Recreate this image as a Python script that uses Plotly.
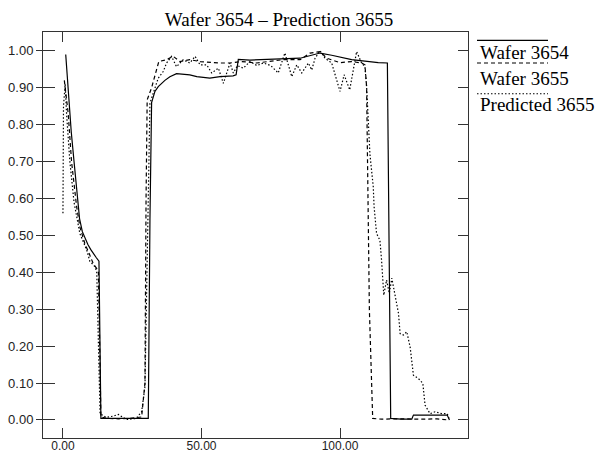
import plotly.graph_objects as go

# ---- data ----
w3654_x = [1, 2, 3, 4, 5, 6, 7, 8, 9, 10, 11, 12, 13, 13.7, 16, 20, 25, 30.8, 31.4, 32,
           33.2, 34.4, 36.8, 38.6, 41, 42.2, 45.8, 48.3, 53, 56.7, 61.4, 62.5, 63.3, 67.5,
           72.3, 79.5, 85.6, 92.8, 94.6, 97, 104.2, 109.6, 113.8, 117.1, 118.3, 122, 125.9,
           126.5, 130, 135, 138.7, 139.5]
w3654_y = [0.99, 0.87, 0.78, 0.70, 0.615, 0.545, 0.51, 0.49, 0.475, 0.462, 0.45, 0.44, 0.43,
           0.004, 0.004, 0.004, 0.004, 0.004, 0.54, 0.86, 0.89, 0.903, 0.92, 0.93, 0.938,
           0.937, 0.935, 0.93, 0.926, 0.93, 0.932, 0.935, 0.977, 0.975, 0.976, 0.977, 0.98,
           0.994, 0.992, 0.988, 0.976, 0.971, 0.968, 0.967, 0.004, 0.002, 0.002, 0.013,
           0.013, 0.013, 0.013, 0.0]

w3655_x = [0.5, 1.9, 3.1, 4.9, 6.1, 7.9, 9.5, 10.9, 12.2, 12.8, 13.7, 16, 20, 24, 28.4,
           29.6, 30.0, 30.4, 32, 34.6, 37.4, 39.8, 42.2, 45.8, 49.5, 53.1, 56.7, 60.3,
           64.5, 69.9, 74.7, 79.5, 85.6, 89.2, 92.8, 95.2, 100, 104.2, 107.8, 109, 109.6,
           110.2, 110.6, 111.8, 115, 120, 125, 130, 135, 139]
w3655_y = [0.92, 0.83, 0.70, 0.58, 0.523, 0.478, 0.45, 0.424, 0.41, 0.40, 0.008, 0.004,
           0.003, 0.004, 0.008, 0.10, 0.60, 0.867, 0.90, 0.971, 0.976, 0.985, 0.971, 0.976,
           0.971, 0.968, 0.967, 0.967, 0.971, 0.967, 0.971, 0.976, 0.976, 0.994, 0.998,
           0.98, 0.968, 0.971, 0.967, 0.962, 0.903, 0.60, 0.30, 0.004, 0.002, 0.003, 0.002,
           0.002, 0.003, 0.0]

pred_x = [0, 0.2, 0.8, 1.3, 2.5, 4, 6.1, 8.6, 9.7, 11.6, 12.2, 13.4, 15.5, 18, 20, 22.9,
          26.4, 28.4, 29.6, 30.2, 31.4, 33.2, 34.4, 36.2, 37.4, 39.2, 41, 43.4, 45.8, 47.7,
          49.5, 51.9, 53.7, 56.1, 57.9, 60.3, 61.5, 63, 65.1, 67.5, 70, 72.3, 75, 77.7,
          80.1, 82.6, 84.4, 86.2, 88.6, 89.8, 91, 92.8, 94.6, 97, 100, 101.5, 103.5, 106,
          107.8, 109, 109.6, 110.2, 110.8, 112, 112.3, 113.2, 114.4, 115, 115.6, 115.8,
          116.8, 117.8, 118.7, 119.9, 121.1, 121.7, 122.9, 124.1, 125.3, 126.5, 128.3,
          129.9, 130.7, 132.5, 134.3, 136.7, 138.7, 139.5]
pred_y = [0.56, 0.85, 0.91, 0.83, 0.70, 0.59, 0.505, 0.46, 0.43, 0.415, 0.40, 0.017, 0.007,
          0.01, 0.015, 0.001, 0.004, 0.022, 0.09, 0.325, 0.858, 0.899, 0.926, 0.944, 0.967,
          0.985, 0.957, 0.976, 0.967, 0.985, 0.962, 0.962, 0.94, 0.953, 0.912, 0.967, 0.94,
          0.96, 0.953, 0.971, 0.96, 0.967, 0.96, 0.94, 0.994, 0.93, 0.962, 0.94, 0.967,
          0.948, 0.98, 1.0, 0.98, 0.967, 0.89, 0.935, 0.894, 0.998, 0.967, 0.957, 0.903,
          0.813, 0.72, 0.632, 0.578, 0.505, 0.487, 0.433, 0.379, 0.338, 0.379, 0.343,
          0.384, 0.334, 0.289, 0.234, 0.23, 0.239, 0.198, 0.121, 0.112, 0.099, 0.04, 0.017,
          0.022, 0.017, 0.017, 0.001]

series_names = ["Wafer 3654", "Wafer 3655", "Predicted 3655"]
x_ticks = [0, 50, 100]
y_ticks = [0.0, 0.1, 0.2, 0.3, 0.4, 0.5, 0.6, 0.7, 0.8, 0.9, 1.0]
title_text = "Wafer 3654 \u2013 Prediction 3655"

# ---- figure ----
W, H = 616, 455
L, R, T, B = 43, 468, 32.3, 437.7
XR = [-7.2, 146.2]
YR = [-0.049, 1.051]

dashes = ["solid", "4px,3px", "1.5px,2px"]
fig = go.Figure()
for (xs, ys), name, d in zip([(w3654_x, w3654_y), (w3655_x, w3655_y), (pred_x, pred_y)],
                             series_names, dashes):
    fig.add_trace(go.Scatter(x=xs, y=ys, mode="lines", name=name, showlegend=False,
                             line=dict(color="black", width=1.2, dash=d)))

axis_col = "#333333"
ytickfont = dict(family="Liberation Sans, Arial, sans-serif", size=13, color="#222222")
xtickfont = dict(family="Liberation Sans, Arial, sans-serif", size=12, color="#222222")
fig.update_layout(
    width=W, height=H,
    margin=dict(l=L, r=W - R, t=T, b=H - B, pad=0),
    paper_bgcolor="white", plot_bgcolor="white",
    title=dict(text=title_text, x=279 / W, xanchor="center", xref="container",
               y=1 - 19 / H, yanchor="middle",
               font=dict(family="Liberation Serif, Times New Roman, serif", size=19, color="black")),
    xaxis=dict(range=XR, tickvals=x_ticks, tickformat=".2f", ticks="inside", ticklen=10,
               tickcolor=axis_col, showline=True, linecolor=axis_col, linewidth=1,
               mirror="ticks", showgrid=False, zeroline=False, tickfont=xtickfont,
               automargin=False, ticklabelstandoff=-3),
    yaxis=dict(range=YR, tickvals=y_ticks, tickformat=".2f", ticks="outside", ticklen=6,
               tickcolor=axis_col, showline=True, linecolor=axis_col, linewidth=1,
               showgrid=False, zeroline=False, tickfont=ytickfont, automargin=False),
    yaxis2=dict(range=YR, overlaying="y", side="left", tickvals=y_ticks, ticks="inside",
                ticklen=12, tickcolor=axis_col, showticklabels=False, showline=False,
                showgrid=False, zeroline=False),
    yaxis3=dict(range=YR, overlaying="y", side="right", tickvals=y_ticks, ticks="inside",
                ticklen=10, tickcolor=axis_col, showticklabels=False, showline=True,
                linecolor=axis_col, showgrid=False, zeroline=False),
)
# invisible traces so the overlay axes are drawn
fig.add_trace(go.Scatter(x=[None], y=[None], yaxis="y2", showlegend=False, hoverinfo="skip"))
fig.add_trace(go.Scatter(x=[None], y=[None], yaxis="y3", showlegend=False, hoverinfo="skip"))

# ---- custom legend (line above each label) ----
pw, ph = R - L, B - T
def px_x(p):
    return (p - L) / pw
def px_y(p):
    return (B - p) / ph

leg_line_y = [40.7, 63.3, 94]
leg_text_y = [53, 79, 105]
for name, d, ly, ty in zip(series_names, dashes, leg_line_y, leg_text_y):
    fig.add_shape(type="line", xref="paper", yref="paper",
                  x0=px_x(477), x1=px_x(548), y0=px_y(ly), y1=px_y(ly),
                  line=dict(color="black", width=1.1, dash=d))
    fig.add_annotation(text=name, xref="paper", yref="paper", x=px_x(478), y=px_y(ty),
                       xanchor="left", yanchor="middle", showarrow=False,
                       font=dict(family="Liberation Serif, Times New Roman, serif", size=19,
                                 color="black"))

fig.write_html("out.html")
